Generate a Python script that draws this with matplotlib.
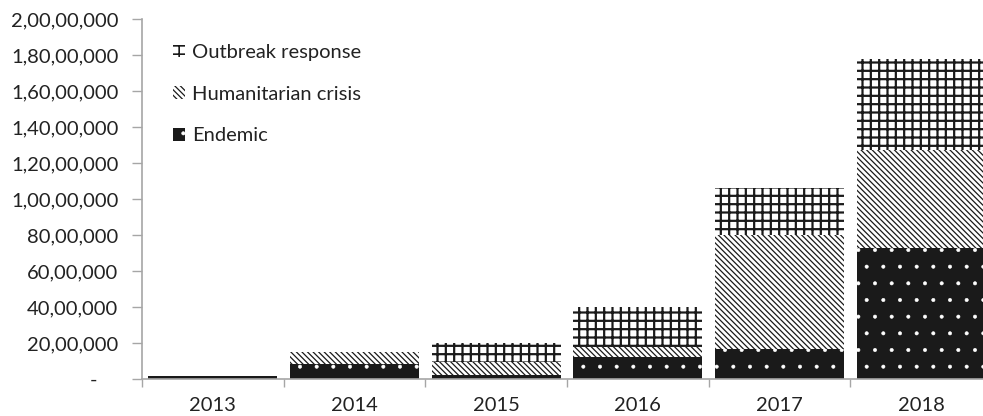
import matplotlib
matplotlib.use("Agg")
import matplotlib.pyplot as plt
from matplotlib.patches import Patch
import numpy as np

years = ["2013", "2014", "2015", "2016", "2017", "2018"]
endemic = [180000, 830000, 250000, 1240000, 1670000, 7300000]
humanitarian = [0, 670000, 680000, 560000, 6330000, 5400000]
outbreak = [0, 0, 1090000, 2200000, 2600000, 5100000]
ytick_values = [0, 2000000, 4000000, 6000000, 8000000, 10000000, 12000000,
                14000000, 16000000, 18000000, 20000000]
ytick_labels = ["-    ", "20,00,000", "40,00,000", "60,00,000", "80,00,000",
                "1,00,00,000", "1,20,00,000", "1,40,00,000", "1,60,00,000",
                "1,80,00,000", "2,00,00,000"]

plt.rcParams['font.family'] = ['Lato', 'DejaVu Sans']
TXT = '#222222'
SPINE = '#a6a6a6'
FS = 14.5

fig = plt.figure(figsize=(9.83, 4.16), dpi=100)
ax = fig.add_axes([142/983, 37/416, 850/983, 360/416])

x = np.arange(len(years))
w = 0.91


def with_hatch_lw(artist, lw):
    orig = artist.draw

    def draw(renderer, _orig=orig):
        with plt.rc_context({'hatch.linewidth': lw}):
            _orig(renderer)
    artist.draw = draw
    if hasattr(artist, 'set_hatch_linewidth'):
        artist.set_hatch_linewidth(lw)


def hbar(bottom, vals, face, edge, hatch, lw):
    bars = ax.bar(x, vals, width=w, bottom=bottom, color=face,
                  edgecolor=edge, hatch=hatch, linewidth=0)
    for b in bars:
        with_hatch_lw(b, lw)
    return bars

e = np.array(endemic, dtype=float)
h = np.array(humanitarian, dtype=float)
o = np.array(outbreak, dtype=float)

hbar(0, e, '#1a1a1a', 'white', '.', 0.4)
hbar(e, h, 'white', '#1a1a1a', '\\' * 6, 0.9)
hbar(e + h, o, 'white', '#1a1a1a', '++', 1.6)

ax.set_xlim(-0.5, 5.5)
ax.set_ylim(0, 20000000)
ax.set_yticks(ytick_values)
ax.set_yticklabels(ytick_labels)
ax.set_xticks(x)
ax.set_xticklabels(years)
ax.set_xticks(np.arange(-0.5, 6.0, 1.0), minor=True)

ax.tick_params(axis='y', length=7, width=1, color=SPINE, labelsize=FS,
               labelcolor=TXT, pad=10)
ax.tick_params(axis='x', which='major', length=0, labelsize=FS,
               labelcolor=TXT, pad=13)
ax.tick_params(axis='x', which='minor', length=6, width=1, color=SPINE)

for s in ['top', 'right']:
    ax.spines[s].set_visible(False)
for s in ['left', 'bottom']:
    ax.spines[s].set_color(SPINE)
    ax.spines[s].set_linewidth(1.2)

handles = [
    Patch(facecolor='white', edgecolor='#1a1a1a', hatch='++', linewidth=0,
          label='Outbreak response'),
    Patch(facecolor='white', edgecolor='#1a1a1a', hatch='\\' * 6, linewidth=0,
          label='Humanitarian crisis'),
    Patch(facecolor='#1a1a1a', edgecolor='white', hatch='.', linewidth=0,
          label='Endemic'),
]

leg = ax.legend(handles=handles, loc='upper left', bbox_to_anchor=(0.036, 0.93),
                frameon=False, fontsize=FS, handlelength=0.6, handleheight=0.6,
                handletextpad=0.35, labelspacing=1.22, borderpad=0, borderaxespad=0)
for t in leg.get_texts():
    t.set_color(TXT)
for p, lw in zip(leg.get_patches(), [1.2, 0.9, 0.4]):
    with_hatch_lw(p, lw)

fig.savefig("out.png", dpi=100)
